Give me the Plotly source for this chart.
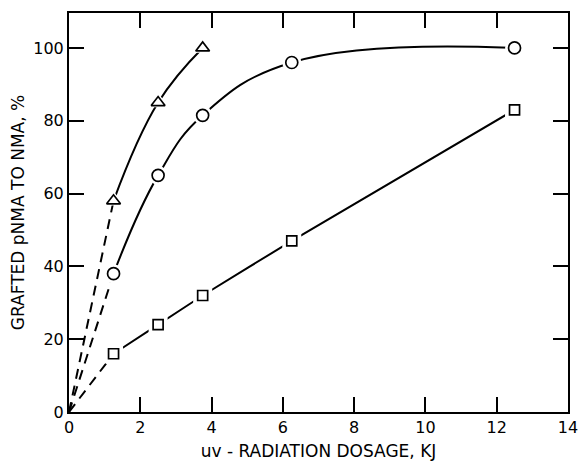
import plotly.graph_objects as go

# data
tri_x = [1.25, 2.5, 3.75]
tri_y = [58, 85, 100]
circ_x = [1.25, 2.5, 3.75, 6.25, 12.5]
circ_y = [38, 65, 81.5, 96, 100]
sq_x = [1.25, 2.5, 3.75, 6.25, 12.5]
sq_y = [16, 24, 32, 47, 83]
origin = [0, 0]

x_ticks = [0, 2, 4, 6, 8, 10, 12, 14]
y_ticks = [0, 20, 40, 60, 80, 100]

FONT = "DejaVu Sans"
fig = go.Figure()

series = [(tri_x, tri_y, "triangle-up"), (circ_x, circ_y, "circle"), (sq_x, sq_y, "square")]

# dashed extrapolations to origin
for xs, ys, sym in series:
    fig.add_trace(go.Scatter(x=[origin[0], xs[0]], y=[origin[1], ys[0]], mode="lines",
                             line=dict(color="black", width=2, dash="10px,7px"),
                             hoverinfo="skip", showlegend=False))
# smooth solid curves
for xs, ys, sym in series:
    fig.add_trace(go.Scatter(x=xs, y=ys, mode="lines",
                             line=dict(color="black", width=2, shape="spline",
                                       smoothing=1.2 if sym != "square" else 0.3),
                             hoverinfo="skip", showlegend=False))
# white halos for gaps around markers
for xs, ys, sym in series:
    fig.add_trace(go.Scatter(x=xs, y=ys, mode="markers",
                             marker=dict(symbol=sym, size=19, color="white", line=dict(width=0)),
                             hoverinfo="skip", showlegend=False))
# open markers
for xs, ys, sym in series:
    fig.add_trace(go.Scatter(x=xs, y=ys, mode="markers",
                             marker=dict(symbol=sym, size=12 if sym != "square" else 10, color="white",
                                         line=dict(color="black", width=1.7)),
                             showlegend=False))

axis_common = dict(showline=True, linecolor="black", linewidth=2, mirror="ticks",
                   ticks="inside", ticklen=15, tickwidth=2, tickcolor="black",
                   showgrid=False, zeroline=False, automargin=False,
                   tickfont=dict(family=FONT, size=16, color="black"))

fig.update_xaxes(range=[0, 14], tickvals=x_ticks, ticktext=[str(v) for v in x_ticks],
                 title=dict(text="uv - RADIATION DOSAGE, KJ", standoff=9,
                            font=dict(family=FONT, size=17, color="#000000")),
                 **axis_common)
fig.update_yaxes(range=[0, 109.6], tickvals=y_ticks, ticktext=[str(v) for v in y_ticks],
                 title=dict(text="GRAFTED pNMA TO NMA, %", standoff=4,
                            font=dict(family=FONT, size=17, color="#000000")),
                 **axis_common)

fig.update_layout(width=579, height=461, margin=dict(l=69, r=11, t=13, b=49),
                  plot_bgcolor="white", paper_bgcolor="white")

fig.write_html("out.html", config={"displayModeBar": False},
               post_script="document.body.style.margin='0';")
